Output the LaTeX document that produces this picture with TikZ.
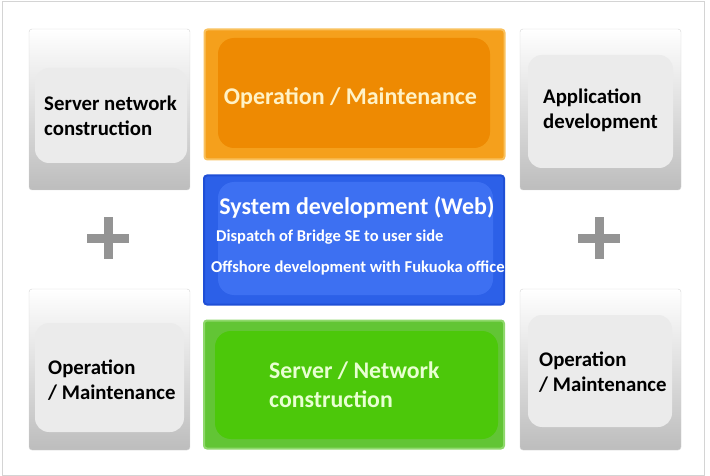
\documentclass[tikz,border=0pt]{standalone}
\usepackage{fontspec}
\setmainfont{Carlito}
\usetikzlibrary{positioning, shapes.misc}
\definecolor{framegray}{HTML}{D4D4D4}
\definecolor{innergray}{HTML}{EBEBEB}
\definecolor{plusgray}{HTML}{949494}
\definecolor{orangeedge}{HTML}{F9C15E}
\definecolor{orangeouter}{HTML}{F5A01C}
\definecolor{orangeinner}{HTML}{EE8A02}
\definecolor{orangetext}{HTML}{FFF2C6}
\definecolor{blueedge}{HTML}{1F4FD6}
\definecolor{blueouter}{HTML}{2C60E8}
\definecolor{blueinner}{HTML}{3D70F2}
\definecolor{greenedge}{HTML}{8FD86C}
\definecolor{greenouter}{HTML}{62C535}
\definecolor{greeninner}{HTML}{4CC80A}
\definecolor{greentext}{HTML}{E8FFD2}
\tikzset{
    sidebox/.style={rectangle, draw=framegray, rounded corners=3pt, top color=white, bottom color=gray!52, minimum width=161pt, minimum height=161pt, inner sep=0pt, outer sep=0pt},
    sideinner/.style={rectangle, rounded corners=14pt, fill=innergray, inner sep=0pt, outer sep=0pt},
    sidetext/.style={anchor=west, align=left, inner sep=0pt, font=\fontsize{20.8}{25}\selectfont\bfseries},
    mainbox/.style={rectangle, rounded corners=3pt, line width=2pt, inner sep=0pt, outer sep=0pt, minimum width=300pt},
    maininner/.style={rectangle, rounded corners=16pt, inner sep=0pt, outer sep=0pt},
    plussign/.style={draw=plusgray, cross out, rotate=45, line width=9pt, minimum size=20.5pt, inner sep=0pt}
}
\begin{document}
\begin{tikzpicture}[x=1pt, y=-1pt]
    \useasboundingbox (0,0) rectangle (710,476);
    \draw[framegray] (2,1) rectangle (704,475);

    % Side boxes
    \node (srvbox) [sidebox] at (109.5,109.5) {};
    \node (srvinner) [sideinner, minimum width=152pt, minimum height=95pt] at (111,115.5) {};
    \node (srvtext) [sidetext] at (44,115.5) {Server network\\construction};

    \node (appbox) [sidebox] at (600.5,109.5) {};
    \node (appinner) [sideinner, minimum width=145pt, minimum height=113pt] at (600.5,111.5) {};
    \node (apptext) [sidetext] at (543,110.5) {Application\\development};

    \node (opleftbox) [sidebox] at (109.5,369.5) {};
    \node (opleftinner) [sideinner, minimum width=149pt, minimum height=109pt] at (109.5,377.5) {};
    \node (oplefttext) [sidetext] at (48,380) {Operation\\/ Maintenance};

    \node (oprightbox) [sidebox] at (600.5,369.5) {};
    \node (oprightinner) [sideinner, minimum width=144pt, minimum height=112pt] at (600,371) {};
    \node (oprighttext) [sidetext] at (539,372) {Operation\\/ Maintenance};

    % Centre column
    \node (opbox) [mainbox, draw=orangeedge, fill=orangeouter, minimum height=130pt] at (354.5,94.5) {};
    \node (opinner) [maininner, fill=orangeinner, minimum width=272pt, minimum height=110pt] at (354,93) {};
    \node (optext) [text=orangetext, font=\fontsize{24}{28}\selectfont\bfseries] at (350.5,98) {Operation / Maintenance};

    \node (webbox) [mainbox, draw=blueedge, fill=blueouter, minimum height=129pt] at (354,240) {};
    \node (webinner) [maininner, fill=blueinner, minimum width=275pt, minimum height=113pt] at (355.5,238.5) {};
    \node (webtitle) [text=white, font=\fontsize{24}{28}\selectfont\bfseries] at (357,207) {System development (Web)};
    \node (webline1) [text=white, anchor=west, inner sep=0pt, font=\fontsize{16.5}{20}\selectfont\bfseries] at (216,237) {Dispatch of Bridge SE to user side};
    \node (webline2) [text=white, anchor=west, inner sep=0pt, font=\fontsize{16.6}{20}\selectfont\bfseries] at (211,268) {Offshore development with Fukuoka office};

    \node (netbox) [mainbox, draw=greenedge, fill=greenouter, minimum height=128pt] at (354,384.5) {};
    \node (netinner) [maininner, fill=greeninner, minimum width=283pt, minimum height=108pt] at (356.5,385) {};
    \node (nettext) [text=greentext, anchor=west, align=left, inner sep=0pt, font=\fontsize{23.8}{29}\selectfont\bfseries] at (269,384.5) {Server / Network\\construction};

    % Plus signs
    \node (plusleft) [plussign] at (108,238) {};
    \node (plusright) [plussign] at (599,238) {};

\end{tikzpicture}
\end{document}
